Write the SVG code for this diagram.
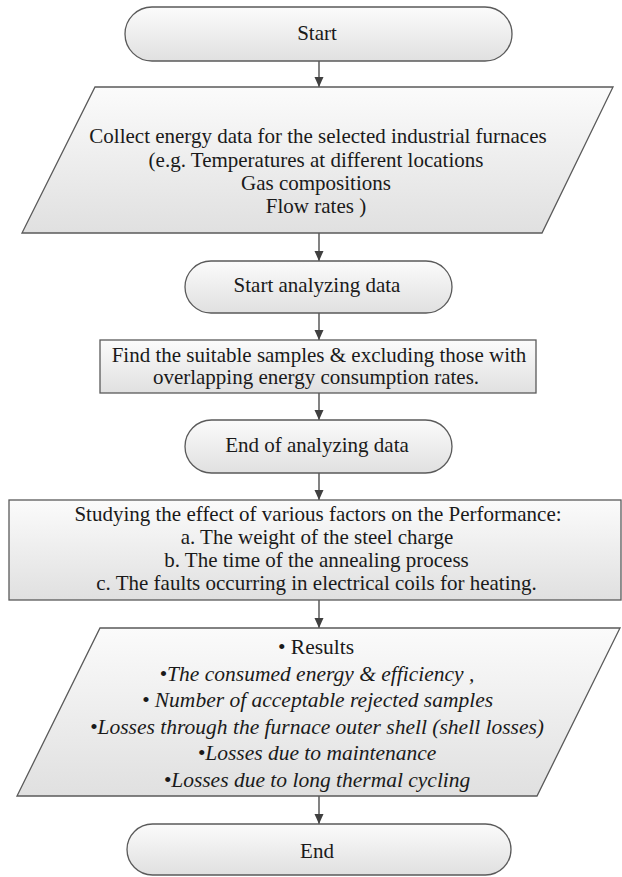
<svg xmlns="http://www.w3.org/2000/svg" width="622" height="877" viewBox="0 0 622 877">
<defs>
<linearGradient id="g" x1="0" y1="0" x2="0" y2="1">
<stop offset="0" stop-color="#fbfbfb"/>
<stop offset="1" stop-color="#e0e0e0"/>
</linearGradient>
<marker id="ah" viewBox="0 0 10 10" refX="10" refY="5" markerWidth="10" markerHeight="10" markerUnits="userSpaceOnUse" orient="auto">
<path d="M0,0.5 L10,5 L0,9.5 Z" fill="#404040"/>
</marker>
</defs>
<style>
.s{fill:url(#g);stroke:#5a5a5a;stroke-width:1.3}
.t{font-size:21px;fill:#1a1a1a;text-anchor:middle}
.r{font-size:21.5px}
.i{font-style:italic}
.c{stroke:#404040;stroke-width:1.3;fill:none;marker-end:url(#ah)}
</style>
<rect width="622" height="877" fill="#ffffff"/>
<g id="connectors">
<line class="c" x1="319" y1="61" x2="319" y2="87"/>
<line class="c" x1="319" y1="233" x2="319" y2="261"/>
<line class="c" x1="319" y1="313" x2="319" y2="340"/>
<line class="c" x1="319" y1="393" x2="319" y2="420"/>
<line class="c" x1="319" y1="473" x2="319" y2="500"/>
<line class="c" x1="319" y1="600" x2="319" y2="628"/>
<line class="c" x1="319" y1="796" x2="319" y2="824"/>
</g>
<g font-family="'Liberation Serif', 'DejaVu Serif', 'Times New Roman', serif">
<g id="start">
<rect class="s" x="125" y="7" width="387" height="54" rx="27" ry="27"/>
<text class="t" x="317" y="40">Start</text>
</g>
<g id="collect">
<polygon class="s" points="95,87 613,87 542,233 22,233"/>
<text class="t" x="318" y="143">Collect energy data for the selected industrial furnaces</text>
<text class="t" x="316" y="167">(e.g.  Temperatures at different locations</text>
<text class="t" x="316" y="190">Gas compositions</text>
<text class="t" x="316" y="213">Flow rates )</text>
</g>
<g id="start-analyzing">
<rect class="s" x="185" y="261" width="267" height="52" rx="26" ry="26"/>
<text class="t" x="317" y="292">Start analyzing data</text>
</g>
<g id="find">
<rect class="s" x="100" y="340" width="436" height="53"/>
<text class="t" x="319" y="362">Find the suitable samples &amp; excluding those with</text>
<text class="t" x="316" y="384">overlapping energy consumption rates.</text>
</g>
<g id="end-analyzing">
<rect class="s" x="185" y="420" width="267" height="53" rx="26.5" ry="26.5"/>
<text class="t" x="317" y="452">End of analyzing data</text>
</g>
<g id="studying">
<rect class="s" x="9" y="500" width="612" height="100"/>
<text class="t" x="318" y="521">Studying the effect of various factors on the Performance:</text>
<text class="t" x="317" y="544">a. The weight of the steel charge</text>
<text class="t" x="316.5" y="567">b. The time of the annealing process</text>
<text class="t" x="316.5" y="590">c. The faults occurring in electrical coils for heating.</text>
</g>
<g id="results">
<polygon class="s" points="100,628 620,628 537,796 17,796"/>
<text class="t r" x="316" y="654">• Results</text>
<text class="t r i" x="317" y="681">•The consumed energy &amp; efficiency ,</text>
<text class="t r i" x="317.5" y="707">•  Number of acceptable rejected samples</text>
<text class="t r i" x="317" y="734">•Losses through the furnace outer shell (shell losses)</text>
<text class="t r i" x="317" y="760">•Losses due to maintenance</text>
<text class="t r i" x="317" y="787">•Losses due to long thermal cycling</text>
</g>
<g id="end">
<rect class="s" x="127" y="824" width="384" height="51" rx="25.5" ry="25.5"/>
<text class="t" x="317" y="858">End</text>
</g>
</g>
</svg>
